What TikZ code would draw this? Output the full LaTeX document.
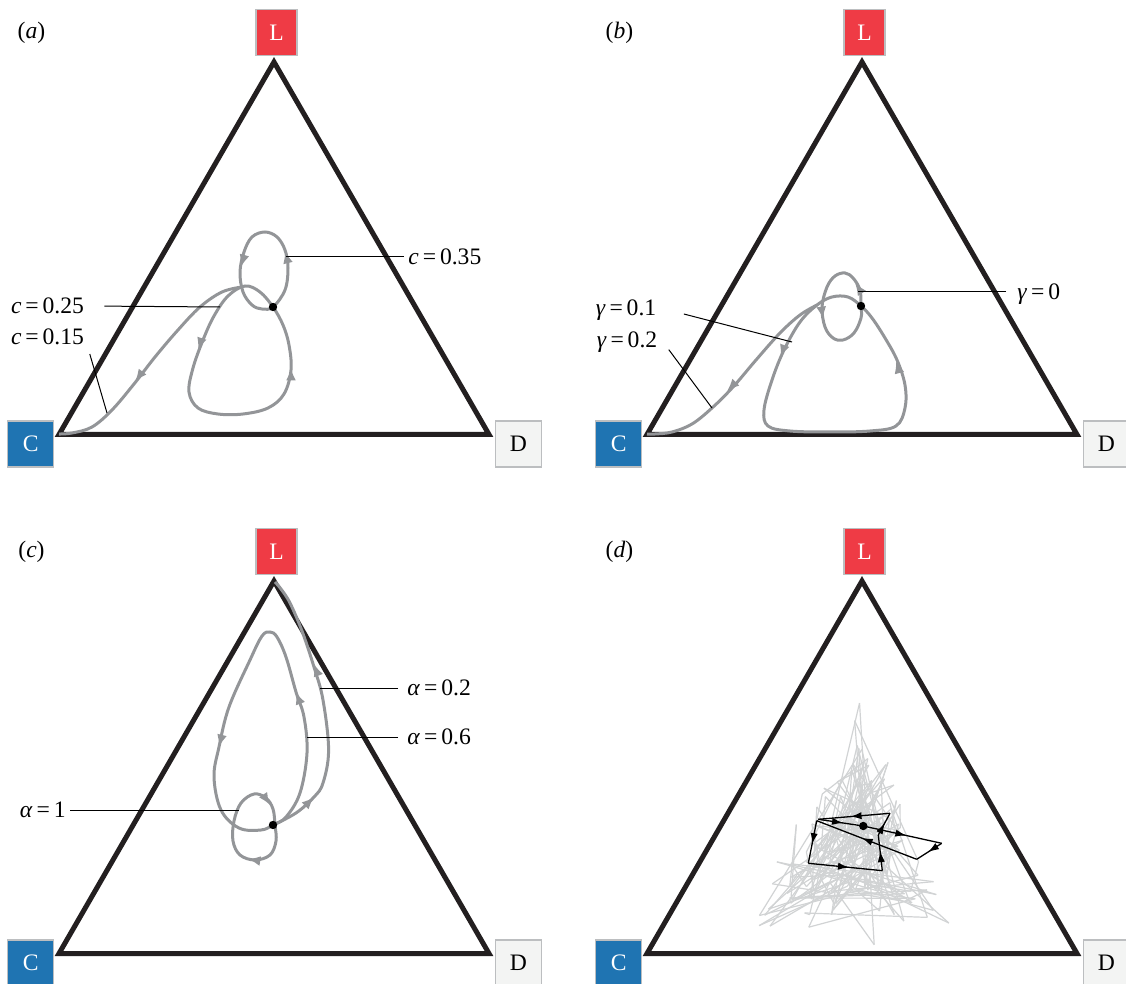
\documentclass[tikz,border=0pt]{standalone}
\usepackage{fontspec}
\setmainfont{Liberation Serif}
\usetikzlibrary{positioning,decorations.markings,arrows.meta}

\definecolor{lred}{HTML}{EF3B45}
\definecolor{cblue}{HTML}{1F74B2}
\definecolor{dgrey}{HTML}{F3F4F3}
\definecolor{boxedge}{HTML}{BCBEC0}
\definecolor{frameblack}{HTML}{231F20}
\definecolor{orbitgrey}{HTML}{939598}
\definecolor{noisegrey}{HTML}{D1D3D4}

\begin{document}
\begin{tikzpicture}[x=0.5pt,y=-0.5pt,
    font=\fontsize{11.8}{13}\selectfont,
    vertex/.style={draw=boxedge,line width=0.6pt,minimum width=23pt,minimum height=23pt,inner sep=0pt},
    simplex/.style={draw=frameblack,line width=2.5pt,line join=miter},
    orbit/.style={color=orbitgrey,line width=1.5pt},
    head/.style={orbit,-{Latex[length=6.2pt,width=5pt]}},
    walk/.style={color=black,line width=0.65pt,postaction={decorate,decoration={markings,
        mark=at position 0.55 with {\arrow{Latex[length=5.5pt,width=3.6pt]}}}}},
    noise/.style={color=noisegrey,line width=0.6pt},
    leader/.style={draw=black,line width=0.5pt},
    lab/.style={inner sep=2pt,text height=7.8pt,text depth=0pt},
    fixed/.style={circle,fill=black,inner sep=0pt,minimum size=4.2pt}
  ]
  \useasboundingbox (0,0) rectangle (1126,984);

  % the four simplices
  \foreach \p/\dx/\dy in {a/0/0,b/588/0,c/0/519,d/588/519}{
    \begin{scope}[shift={(\dx,\dy)}]
      \coordinate (L\p) at (274,62);
      \coordinate (C\p) at (59,434.5);
      \coordinate (D\p) at (489,434.5);
      \draw[simplex] (L\p) -- (C\p) -- (D\p) -- cycle;
      \node[vertex,fill=lred,text=white,minimum width=20.5pt] (Lbox\p) at (276.5,32.5) {L};
      \node[vertex,fill=cblue,text=white] (Cbox\p) at (30.7,444) {C};
      \node[vertex,fill=dgrey] (Dbox\p) at (518.3,444) {D};
      \node (tag\p) at (31.5,33) {(\textit{\p})};
    \end{scope}
  }

  % (a) cost of leaving
  \draw[orbit] plot[smooth,tension=0.6] coordinates {(242,287) (222,292) (200,307) (178,330)
    (155,357) (134,384) (112,410) (92,427) (72,433) (59,434)};
  \draw[orbit] plot[smooth cycle,tension=0.6] coordinates {(245,286) (228,296)
    (214,316) (203,340) (193,368) (189,392) (198,408) (218,414) (243,414) (268,408) (284,394)
    (291,370) (289,345) (283,325) (273,307) (260,292)};
  \draw[orbit] plot[smooth cycle,tension=0.6] coordinates {(273,307) (285,290)
    (288,268) (285,250) (277,237) (265,232) (252,237) (244,252) (240,272) (243,292) (252,305) (262,309)};
  \draw[head] (140,375) -- (135,381.5);
  \draw[head] (200,344) -- (198,350);
  \draw[head] (291,375) -- (291,368);
  \draw[head] (286.5,257) -- (285,251);
  \draw[head] (243,260) -- (241,267);
  \node[fixed] (fpa) at (273,307) {};

  \node[lab,anchor=west] (ca35) at (404,257) {\textit{c}\,=\,0.35};
  \node[lab] (ca25) at (47.5,306) {\textit{c}\,=\,0.25};
  \node[lab] (ca15) at (47.5,337) {\textit{c}\,=\,0.15};
  \coordinate (ca35end) at (286,257);
  \coordinate (ca25end) at (220,307);
  \coordinate (ca15end) at (107,413);
  \draw[leader] (ca35.west) -- (ca35end);
  \draw[leader,shorten <=8pt] (ca25.east) -- (ca25end);
  \draw[leader,shorten <=2.5pt] (ca15.south east) -- (ca15end);

  % (b) punishment
  \begin{scope}[shift={(588,0)}]
    \draw[orbit] plot[smooth,tension=0.6] coordinates {(229,305) (212,315) (192,333) (168,360)
      (145,387) (124,408) (104,424) (84,432) (67,434) (59,434)};
    \draw[orbit] plot[smooth cycle,tension=0.6] coordinates {(273,306) (260,297)
      (244,297) (229,305) (212,322) (196,350) (184,380) (176,410) (180,426) (202,431) (242,432)
      (282,431) (308,426) (317,408) (317,385) (309,360) (297,338) (284,318)};
    \draw[orbit] plot[smooth cycle,tension=0.6] coordinates {(273,306) (272,290)
      (265,278) (257,273) (247,276) (239,287) (234,307) (237,327) (245,338) (255,340) (266,333) (273,318)};
    \draw[head] (145,385) -- (139,391);
    \draw[head] (195,350) -- (192.5,357);
    \draw[head] (310,368) -- (308,361);
    \draw[head] (271,289) -- (267,283);
    \draw[head] (234,312) -- (235,319);
    \node[fixed] (fpb) at (273,306) {};

    \node[lab,anchor=west] (gb0) at (425,291.7) {\textit{γ}\,=\,0};
    \node[lab] (gb1) at (38,308) {\textit{γ}\,=\,0.1};
    \node[lab] (gb2) at (39,340) {\textit{γ}\,=\,0.2};
    \coordinate (gb0end) at (270,291.7);
    \coordinate (gb1end) at (204,342);
    \coordinate (gb2end) at (124,408);
    \draw[leader,shorten <=3.5pt] (gb0.west) -- (gb0end);
    \draw[leader,shorten <=12pt] (gb1.east) -- (gb1end);
    \draw[leader,shorten <=6pt] (gb2.east) -- (gb2end);
  \end{scope}

  % (c) selfishness
  \begin{scope}[shift={(0,519)}]
    \draw[orbit] plot[smooth,tension=0.6] coordinates {(273,306) (296,294) (314,278)
      (323,264) (328.6,231) (323,181) (314,148) (302,112) (290,84) (281,70) (275,63)};
    \draw[orbit] plot[smooth cycle,tension=0.6] coordinates {(273,306) (286,298)
      (300,274) (307,234) (304,198) (296,173) (286,138) (277,118) (270,113) (262,117) (250,141)
      (229,188) (219,228) (214,258) (221,291) (239,309) (261,311)};
    \draw[orbit] plot[smooth cycle,tension=0.6] coordinates {(254,275) (266,279)
      (273,290) (275,306) (276,322) (270,336) (255,341) (240,336) (233,322) (234,302) (241,284)};
    \draw[head] (317,153) -- (314,145);
    \draw[head] (308,284) -- (314,278);
    \draw[head] (299,181) -- (296,173);
    \draw[head] (221,220) -- (219,228);
    \draw[head] (266,280) -- (270,286);
    \draw[head] (254,341) -- (248,340);
    \node[fixed] (fpc) at (273,306) {};

    \node[lab,anchor=west] (ac2) at (403,169) {\textit{α}\,=\,0.2};
    \node[lab,anchor=west] (ac6) at (403,218) {\textit{α}\,=\,0.6};
    \node[lab,anchor=east] (ac1) at (70,291) {\textit{α}\,=\,1};
    \coordinate (ac2end) at (320,169);
    \coordinate (ac6end) at (307,218);
    \coordinate (ac1end) at (239,291);
    \draw[leader,shorten <=2.5pt] (ac2.west) -- (ac2end);
    \draw[leader,shorten <=2.5pt] (ac6.west) -- (ac6end);
    \draw[leader] (ac1.east) -- (ac1end);
  \end{scope}

  % (d) noise
  \begin{scope}[shift={(588,519)}]
    \pgfmathsetseed{7}
    \xdef\ox{275}\xdef\oy{308}
    \foreach \k in {1,...,170}{
      \pgfmathsetmacro\ra{sqrt(rnd)}
      \pgfmathsetmacro\rb{rnd}
      \pgfmathsetmacro\rf{0.5+0.5*rnd}
      \pgfmathsetmacro\nx{275+\rf*((1-\ra)*272+\ra*(1-\rb)*135+\ra*\rb*395-275)}
      \pgfmathsetmacro\ny{308+\rf*((1-\ra)*170+\ra*428-308)}
      \draw[noise] (\ox,\oy) -- (\nx,\ny);
      \xdef\ox{\nx}\xdef\oy{\ny}
    }
    \coordinate (w0) at (275.3,307);
    \coordinate (w1) at (353.7,324.3);
    \coordinate (w2) at (328.7,340.3);
    \coordinate (w3) at (228.7,301.7);
    \coordinate (w4) at (220.3,344.3);
    \coordinate (w5) at (294.3,351.7);
    \coordinate (w6) at (290.3,316);
    \coordinate (w7) at (302,294.3);
    \coordinate (w8) at (230.3,300.3);
    \coordinate (w9) at (275.3,307);
    \foreach \i/\j in {0/1,1/2,2/3,3/4,4/5,5/6,6/7,7/8,8/9}
      \draw[walk] (w\i) -- (w\j);
    \node[fixed] (fpd) at (275.3,307) {};
  \end{scope}
\end{tikzpicture}
\end{document}
